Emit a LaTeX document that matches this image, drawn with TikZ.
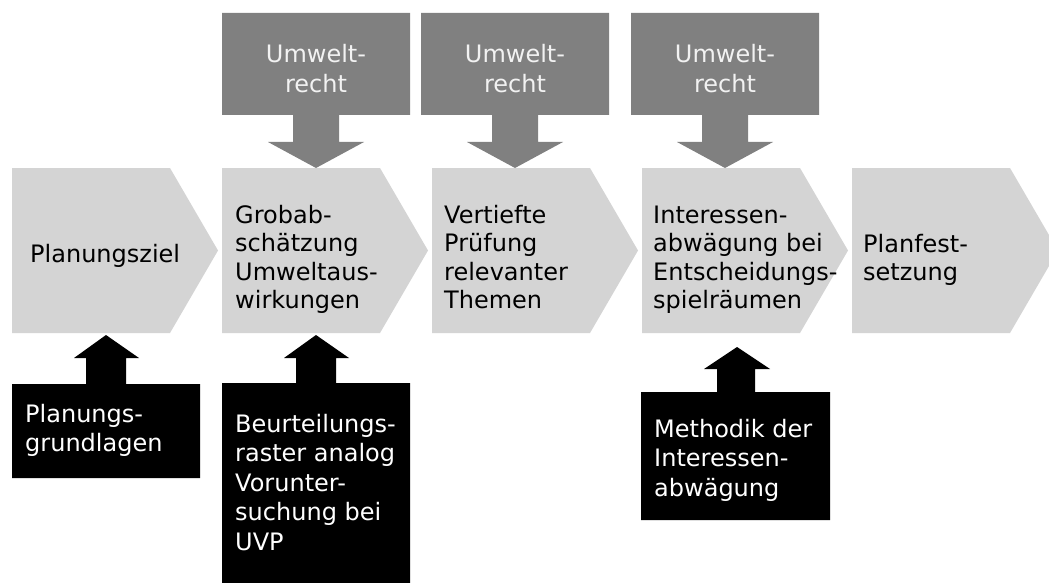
\documentclass[tikz,border=0pt]{standalone}
\usepackage{fontspec}
\setmainfont{DejaVu Sans}
\definecolor{chevgray}{RGB}{212,212,212}
\definecolor{arrgray}{RGB}{128,128,128}
\definecolor{toptext}{RGB}{242,242,242}
\newcommand{\txtl}[1]{\begin{tabular}[t]{@{}l@{}}#1\end{tabular}}
\newcommand{\txtc}[1]{\begin{tabular}[t]{@{}c@{}}#1\end{tabular}}
\newcommand{\chevfont}{\fontsize{24}{28.5}\selectfont}
\newcommand{\boxfont}{\fontsize{24}{29.5}\selectfont}
\begin{document}
\begin{tikzpicture}[x=1pt,y=-1pt,
  chevshape/.style={fill=chevgray},
  topshape/.style={fill=arrgray},
  botshape/.style={fill=black},
  chevtext/.style={inner sep=0pt, anchor=base west, font=\chevfont, text=black},
  toplabel/.style={inner sep=0pt, anchor=base, font=\boxfont, text=toptext},
  botlabel/.style={inner sep=0pt, anchor=base west, font=\boxfont, text=white}]
\clip (0,0) rectangle (1049,583);
\fill[white] (0,0) rectangle (1049,583);

% chevrons
\foreach \L/\n in {12/1,222/2,432/3,642/4,852/5}{
  \fill[chevshape] (\L,168) -- (\L+158,168) -- (\L+206,250.5) -- (\L+158,333) -- (\L,333) -- cycle;
}

% grey arrows from the top
\foreach \c in {316,515,725}{
  \fill[topshape] (\c-94,13) -- (\c+94,13) -- (\c+94,115) -- (\c+23,115) -- (\c+23,142)
     -- (\c+48,142) -- (\c,168) -- (\c-48,142) -- (\c-23,142) -- (\c-23,115) -- (\c-94,115) -- cycle;
}

% black arrows from below
\fill[botshape] (12,478) -- (12,384) -- (86,384) -- (86,358) -- (74,358) -- (106,335)
   -- (139,358) -- (126,358) -- (126,384) -- (200,384) -- (200,478) -- cycle;
\fill[botshape] (222,590) -- (222,383) -- (296,383) -- (296,358) -- (284,358) -- (316,335)
   -- (349,358) -- (336,358) -- (336,383) -- (410,383) -- (410,590) -- cycle;
\fill[botshape] (641,520) -- (641,392) -- (717,392) -- (717,369) -- (704,369) -- (737,347)
   -- (770,369) -- (755,369) -- (755,392) -- (830,392) -- (830,520) -- cycle;

% chevron texts
\node[chevtext] (c1) at (30,262) {\txtl{Planungsziel}};
\node[chevtext] (c2) at (235,223) {\txtl{Grobab-\\schätzung\\Umweltaus-\\wirkungen}};
\node[chevtext] (c3) at (444,223) {\txtl{Vertiefte\\Prüfung\\relevanter\\Themen}};
\node[chevtext] (c4) at (653,223) {\txtl{Interessen-\\abwägung bei\\Entscheidungs-\\spielräumen}};
\node[chevtext] (c5) at (863,252) {\txtl{Planfest-\\setzung}};

% top labels
\node[toplabel] (t1) at (316,63) {\txtc{Umwelt-\\recht}};
\node[toplabel] (t2) at (515,63) {\txtc{Umwelt-\\recht}};
\node[toplabel] (t3) at (725,63) {\txtc{Umwelt-\\recht}};

% bottom labels
\node[botlabel] (b1) at (25,422) {\txtl{Planungs-\\grundlagen}};
\node[botlabel] (b2) at (235,432) {\txtl{Beurteilungs-\\raster analog\\Vorunter-\\suchung bei\\UVP}};
\node[botlabel] (b3) at (654,437) {\txtl{Methodik der\\Interessen-\\abwägung}};
\end{tikzpicture}
\end{document}
